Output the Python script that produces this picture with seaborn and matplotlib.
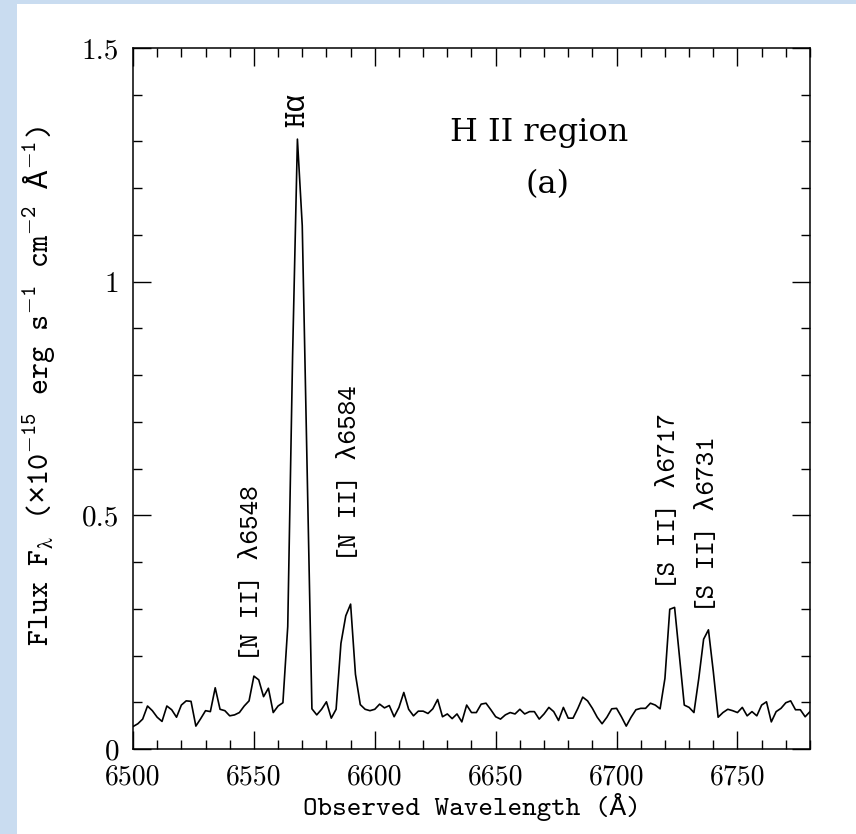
import numpy as np
import pandas as pd
import matplotlib
matplotlib.use("Agg")
import matplotlib.pyplot as plt
import seaborn as sns
from matplotlib.ticker import MultipleLocator, FixedLocator, FixedFormatter
from matplotlib.patches import Rectangle

# ---------------- data ----------------
wave_start = 6500
wave_step = 2
flux = [
    0.048, 0.054, 0.064, 0.092, 0.082, 0.068, 0.059, 0.092, 0.084, 0.068,   # 6500-6518
    0.094, 0.103, 0.102, 0.049, 0.065, 0.082, 0.080, 0.131, 0.085, 0.082,   # 6520-6538
    0.071, 0.073, 0.078, 0.092, 0.103, 0.156, 0.148, 0.112, 0.130, 0.078,   # 6540-6558
    0.092, 0.099, 0.262, 0.840, 1.305, 1.120, 0.600, 0.086, 0.073, 0.085,   # 6560-6578
    0.101, 0.066, 0.085, 0.226, 0.285, 0.310, 0.160, 0.095, 0.085, 0.082,   # 6580-6598
    0.085, 0.096, 0.088, 0.093, 0.069, 0.089, 0.121, 0.085, 0.071, 0.081,   # 6600-6618
    0.081, 0.076, 0.086, 0.106, 0.069, 0.075, 0.065, 0.075, 0.058, 0.094,   # 6620-6638
    0.078, 0.078, 0.096, 0.098, 0.084, 0.069, 0.064, 0.073, 0.078, 0.075,   # 6640-6658
    0.085, 0.075, 0.080, 0.080, 0.064, 0.075, 0.089, 0.080, 0.061, 0.089,   # 6660-6678
    0.066, 0.066, 0.087, 0.111, 0.103, 0.087, 0.068, 0.054, 0.068, 0.086,   # 6680-6698
    0.087, 0.069, 0.049, 0.068, 0.084, 0.087, 0.087, 0.098, 0.094, 0.086,   # 6700-6718
    0.151, 0.299, 0.303, 0.198, 0.094, 0.089, 0.078, 0.151, 0.235, 0.255,   # 6720-6738
    0.166, 0.068, 0.078, 0.085, 0.082, 0.078, 0.089, 0.071, 0.080, 0.071,   # 6740-6758
    0.094, 0.101, 0.058, 0.080, 0.087, 0.099, 0.103, 0.084, 0.084, 0.069,   # 6760-6778
    0.080,                                                                  # 6780
]
wavelength = [wave_start + wave_step * i for i in range(len(flux))]

line_labels = ["Hα", "[N II] λ6548", "[N II] λ6584", "[S II] λ6717", "[S II] λ6731"]
label_wave = [6568.3, 6549.4, 6590.0, 6722.0, 6738.0]
label_flux = [1.330, 0.186, 0.400, 0.340, 0.290]
label_size = [22, 20, 20, 20, 20]

x_ticks = [6500, 6550, 6600, 6650, 6700, 6750]
x_tick_labels = ["6500", "6550", "6600", "6650", "6700", "6750"]
y_ticks = [0, 0.5, 1.0, 1.5]
y_tick_labels = ["0", "0.5", "1", "1.5"]

title_line1 = "H II region"
title_line2 = "(a)"
x_label = "Observed Wavelength (Å)"
y_label = (r"Flux F$_{λ}$ ($\mathsf{×}$10$^{-15}$ erg s$^{-1}$ "
           r"cm$^{-2}$ $\mathsf{Å}^{-1}$)")

# ---------------- style ----------------
sns.set_theme(style="ticks")
TT = ["cmtt10", "Liberation Mono", "DejaVu Sans Mono", "DejaVu Sans"]
plt.rcParams["font.family"] = TT
plt.rcParams["mathtext.fontset"] = "custom"
plt.rcParams["mathtext.rm"] = "cmtt10"
plt.rcParams["mathtext.it"] = "cmtt10"
plt.rcParams["mathtext.sf"] = "Liberation Mono"
plt.rcParams["mathtext.default"] = "rm"
plt.rcParams["mathtext.fallback"] = "cm"

W, H = 856, 834
fig = plt.figure(figsize=(W / 100, H / 100), dpi=100)
fig.patch.set_facecolor("#c9dcf0")
fig.add_artist(Rectangle((17 / W, 0), (W - 17) / W, (834 - 4) / H,
                         transform=fig.transFigure, facecolor="white",
                         edgecolor="none", zorder=0))

ax = fig.add_axes([133 / W, (H - 749) / H, (810 - 133) / W, (749 - 48) / H])
ax.set_facecolor("white")

df = pd.DataFrame({"wavelength": wavelength, "flux": flux})
sns.lineplot(data=df, x="wavelength", y="flux", ax=ax, color="black",
             linewidth=1.2, estimator=None, sort=False)

ax.set_xlim(6500, 6780)
ax.set_ylim(0, 1.5)

ax.xaxis.set_major_locator(FixedLocator(x_ticks))
ax.xaxis.set_major_formatter(FixedFormatter(x_tick_labels))
ax.xaxis.set_minor_locator(MultipleLocator(10))
ax.yaxis.set_major_locator(FixedLocator(y_ticks))
ax.yaxis.set_major_formatter(FixedFormatter(y_tick_labels))
ax.yaxis.set_minor_locator(MultipleLocator(0.1))

ax.tick_params(which="both", direction="in", top=True, right=True,
               color="black", width=1.0)
ax.tick_params(which="major", length=12.7)
ax.tick_params(which="minor", length=6.3)
ax.tick_params(axis="x", which="major", labelsize=20, pad=11)
ax.tick_params(axis="y", which="major", labelsize=21, pad=10)
for lab in ax.get_xticklabels() + ax.get_yticklabels():
    lab.set_fontfamily(["cmr10", "DejaVu Serif"])
    lab.set_color("black")

for sp in ax.spines.values():
    sp.set_color("black")
    sp.set_linewidth(1.1)

ax.set_xlabel(x_label, fontsize=20, labelpad=2, color="black")
ax.set_ylabel(y_label, fontsize=22, color="black")
ax.yaxis.set_label_coords(-0.112, 0.518)

for txt, xw, yf, fs in zip(line_labels, label_wave, label_flux, label_size):
    ax.text(xw, yf, txt, rotation=90, ha="center", va="bottom",
            fontsize=fs, color="black")

ax.text(6668, 1.30, title_line1, ha="center", va="baseline", fontsize=23,
        family=["DejaVu Serif"], color="black")
ax.text(6671.5, 1.19, title_line2, ha="center", va="baseline", fontsize=23,
        family=["DejaVu Serif"], color="black")

fig.savefig("out.png", dpi=100, facecolor=fig.get_facecolor())
